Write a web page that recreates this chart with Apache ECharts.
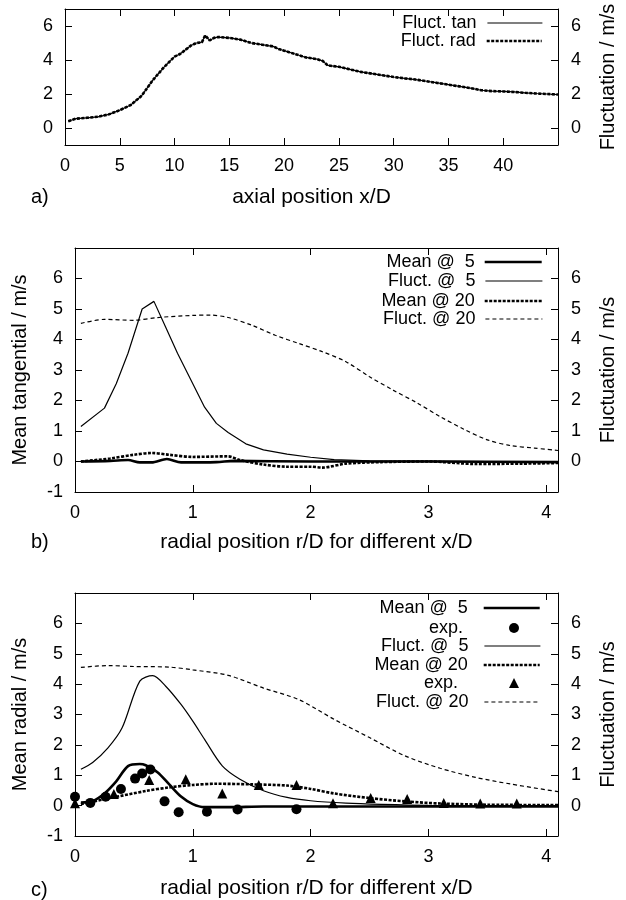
<!DOCTYPE html>
<html>
<head>
<meta charset="utf-8">
<script src="https://cdn.jsdelivr.net/npm/echarts@6/dist/echarts.min.js"></script>
<style>
* { margin: 0; padding: 0; }
body { background: #fff; }
#chart { width: 626px; height: 900px; }
</style>
</head>
<body>
<div id="chart"></div>
<script>
// panel a) fluctuations along the axis
var axialX = [0.3, 1, 2, 3, 4, 5, 6, 7, 8, 9, 10, 10.5, 11, 11.5, 12, 12.5, 12.8, 13.2, 13.6, 14, 15, 16, 17, 18, 18.5, 19, 19.5, 20, 21, 22, 23, 23.5, 24, 25, 26, 27, 28, 29, 30, 31, 32, 33, 34, 35, 36, 37, 38, 39, 40, 41, 42, 43, 44, 45];
var fluctTanA = [0.4, 0.55, 0.6, 0.65, 0.8, 1.05, 1.35, 1.9, 2.8, 3.55, 4.2, 4.35, 4.6, 4.85, 5.0, 5.05, 5.45, 5.15, 5.3, 5.35, 5.3, 5.2, 5.0, 4.9, 4.85, 4.8, 4.65, 4.55, 4.35, 4.15, 4.05, 3.95, 3.68, 3.6, 3.45, 3.3, 3.2, 3.1, 3.0, 2.92, 2.85, 2.75, 2.65, 2.55, 2.45, 2.35, 2.22, 2.17, 2.15, 2.12, 2.07, 2.03, 2.0, 1.97];
var fluctRadA = [0.4, 0.55, 0.6, 0.66, 0.8, 1.05, 1.35, 1.9, 2.8, 3.55, 4.2, 4.35, 4.6, 4.85, 5.0, 5.05, 5.45, 5.15, 5.3, 5.35, 5.3, 5.2, 5.0, 4.9, 4.85, 4.8, 4.65, 4.55, 4.35, 4.15, 4.05, 3.95, 3.68, 3.6, 3.45, 3.3, 3.2, 3.1, 3.0, 2.92, 2.85, 2.75, 2.65, 2.55, 2.45, 2.35, 2.22, 2.17, 2.15, 2.12, 2.07, 2.03, 2.0, 1.97];

// panel b) tangential
var mean5BX = [0.05, 0.3, 0.45, 0.55, 0.65, 0.78, 0.9, 1.2, 1.35, 2.0, 3.0, 4.1];
var mean5B = [0, 0.02, 0.05, -0.03, -0.03, 0.08, -0.03, -0.02, 0.02, 0, 0, -0.02];
var fluct5BX = [0.05, 0.25, 0.35, 0.45, 0.57, 0.67, 0.77, 0.87, 1.0, 1.1, 1.2, 1.3, 1.45, 1.6, 1.8, 2.0, 2.2, 2.5, 3.0, 3.5, 4.1];
var fluct5B = [1.15, 1.75, 2.55, 3.55, 5.0, 5.25, 4.4, 3.55, 2.55, 1.78, 1.25, 0.95, 0.58, 0.38, 0.24, 0.14, 0.06, 0.02, 0.01, 0, 0];
var mean20BX = [0.05, 0.3, 0.5, 0.65, 0.8, 1.0, 1.3, 1.4, 1.6, 1.8, 2.0, 2.1, 2.3, 2.6, 3.0, 3.4, 3.8, 4.1];
var mean20B = [0, 0.1, 0.22, 0.28, 0.22, 0.15, 0.17, 0.05, -0.1, -0.17, -0.17, -0.2, -0.07, -0.02, 0, -0.08, -0.07, -0.05];
var fluct20BX = [0.05, 0.25, 0.5, 0.7, 1.0, 1.15, 1.3, 1.5, 1.7, 1.9, 2.1, 2.3, 2.5, 2.7, 2.9, 3.1, 3.3, 3.5, 3.7, 3.9, 4.1];
var fluct20B = [4.53, 4.66, 4.63, 4.72, 4.79, 4.8, 4.72, 4.47, 4.14, 3.87, 3.6, 3.27, 2.78, 2.34, 1.93, 1.47, 1.06, 0.71, 0.52, 0.44, 0.36];

// panel c) radial
var mean5CX = [0.05, 0.15, 0.25, 0.35, 0.45, 0.55, 0.6, 0.7, 0.8, 0.9, 1.0, 1.1, 1.3, 1.6, 2.0, 3.0, 4.1];
var mean5C = [0.1, 0.15, 0.4, 0.8, 1.3, 1.37, 1.33, 1.1, 0.7, 0.3, 0.05, -0.05, -0.05, -0.03, -0.03, -0.03, -0.03];
var exp5X = [0, 0.13, 0.26, 0.39, 0.51, 0.57, 0.64, 0.76, 0.88, 1.12, 1.38, 1.88];
var exp5 = [0.29, 0.09, 0.29, 0.55, 0.89, 1.06, 1.19, 0.14, -0.22, -0.2, -0.13, -0.12];
var fluct5CX = [0.05, 0.15, 0.28, 0.4, 0.55, 0.66, 0.77, 0.9, 1.0, 1.1, 1.25, 1.4, 1.6, 1.8, 2.0, 2.3, 2.6, 3.0, 4.1];
var fluct5C = [1.2, 1.42, 1.9, 2.56, 4.1, 4.28, 3.93, 3.33, 2.78, 2.18, 1.31, 0.87, 0.49, 0.27, 0.16, 0.08, 0.04, 0.01, 0];
var mean20CX = [0.05, 0.3, 0.6, 0.8, 1.0, 1.2, 1.5, 1.8, 2.0, 2.2, 2.5, 2.8, 3.1, 3.5, 4.1];
var mean20C = [0.05, 0.25, 0.48, 0.6, 0.68, 0.72, 0.7, 0.66, 0.55, 0.4, 0.25, 0.14, 0.07, 0.03, 0.02];
var exp20X = [0, 0.33, 0.63, 0.94, 1.25, 1.56, 1.88, 2.19, 2.51, 2.82, 3.13, 3.44, 3.75];
var exp20 = [0.08, 0.38, 0.84, 0.87, 0.4, 0.68, 0.68, 0.08, 0.25, 0.22, 0.09, 0.07, 0.07];
var fluct20CX = [0.05, 0.28, 0.5, 0.8, 1.0, 1.3, 1.6, 1.9, 2.2, 2.5, 2.8, 3.1, 3.4, 3.7, 4.1];
var fluct20C = [4.55, 4.61, 4.58, 4.56, 4.47, 4.29, 3.87, 3.49, 2.84, 2.24, 1.64, 1.23, 0.93, 0.71, 0.46];

// tick labels
var xTicksA = [0, 5, 10, 15, 20, 25, 30, 35, 40];
var yTicksA = [0, 2, 4, 6];
var xTicksR = [0, 1, 2, 3, 4];
var yTicksLeft = [-1, 0, 1, 2, 3, 4, 5, 6];
var yTicksRight = [0, 1, 2, 3, 4, 5, 6];

var FONT = 'Liberation Sans';
var TICK_FS = 18;
var NAME_FS = 20;
var LEG_FS = 18;

function zip(xs, ys) {
  return xs.map(function (x, i) { return [x, ys[i]]; });
}

var thick = { color: '#000', width: 2.6 };
var thickDot = { color: '#000', width: 2.6, type: [3, 1.5] };
var thin = { color: '#000', width: 1.2 };
var thinDash = { color: '#000', width: 1.2, type: [4, 3] };

function lineSeries(name, data, style, gi, yi, smooth) {
  return {
    name: name, type: 'line', data: data, symbol: 'none',
    xAxisIndex: gi * 2, yAxisIndex: gi * 2 + yi,
    lineStyle: style, itemStyle: { color: '#000' },
    smooth: smooth || false, animation: false, z: style.width > 2 ? 3 : 2
  };
}
function scatterSeries(name, data, symbol, size, gi) {
  return {
    name: name, type: 'scatter', data: data, symbol: symbol, symbolSize: size,
    xAxisIndex: gi * 2, yAxisIndex: gi * 2,
    itemStyle: { color: '#000', opacity: 1 }, animation: false, z: 5
  };
}

function xAxes(gi, max, ticks, name, gap) {
  var tick = { inside: true, length: 7, customValues: ticks, lineStyle: { color: '#000' } };
  return [{
    type: 'value', gridIndex: gi, min: 0, max: max, position: 'bottom',
    axisLine: { onZero: false, lineStyle: { color: '#000' } }, axisTick: tick,
    axisLabel: { customValues: ticks, color: '#000', fontSize: TICK_FS, fontFamily: FONT, margin: 12 },
    splitLine: { show: false },
    name: name, nameLocation: 'middle', nameGap: gap,
    nameTextStyle: { color: '#000', fontSize: NAME_FS + 1, fontFamily: FONT }
  }, {
    type: 'value', gridIndex: gi, min: 0, max: max, position: 'top',
    axisLine: { show: true, onZero: false, lineStyle: { color: '#000' } }, axisTick: tick,
    axisLabel: { show: false }, splitLine: { show: false }
  }];
}

function yAxis(gi, pos, ticks, labels, name, gap) {
  return {
    type: 'value', gridIndex: gi, min: -1, max: 7, position: pos,
    axisLine: { show: true, onZero: false, lineStyle: { color: '#000' } },
    axisTick: { show: true, inside: true, length: 7, customValues: ticks, lineStyle: { color: '#000' } },
    axisLabel: { customValues: labels, color: '#000', fontSize: TICK_FS, fontFamily: FONT, margin: pos === 'left' ? 12 : 13 },
    splitLine: { show: false },
    name: name, nameLocation: 'middle', nameGap: gap, nameRotate: 90,
    nameTextStyle: { color: '#000', fontSize: NAME_FS, fontFamily: FONT }
  };
}

var hiddenMark = { color: 'rgba(0,0,0,0)', borderColor: 'rgba(0,0,0,0)', borderWidth: 0, opacity: 0 };

function legendItem(name, right, centerY, iconW, iconH, padRight, style) {
  var l = {
    data: [name], orient: 'vertical', align: 'right', selectedMode: false,
    right: right, top: centerY - 10, padding: 0,
    itemWidth: iconW, itemHeight: iconH, itemGap: 0,
    textStyle: { color: '#000', fontSize: LEG_FS, fontFamily: FONT, padding: [0, padRight, 0, 0] }
  };
  if (style) {
    l.itemStyle = hiddenMark;
    l.lineStyle = { width: style.width, type: style.type || 'solid', color: '#000' };
  } else {
    l.itemStyle = { color: '#000', opacity: 1 };
  }
  return l;
}

var titleStyle = { fontSize: NAME_FS, fontWeight: 'normal', fontFamily: FONT, color: '#000' };

var option = {
  backgroundColor: '#fff',
  animation: false,
  title: [
    { text: 'a)', left: 31, top: 187, textStyle: titleStyle, padding: 0 },
    { text: 'b)', left: 31, top: 532, textStyle: titleStyle, padding: 0 },
    { text: 'c)', left: 31, top: 880, textStyle: titleStyle, padding: 0 }
  ],
  grid: [
    { left: 65, top: 9, width: 499, height: 136 },
    { left: 75, top: 248, width: 490, height: 244 },
    { left: 75, top: 593, width: 490, height: 245 }
  ],
  xAxis: [].concat(
    xAxes(0, 45, xTicksA, 'axial position x/D', 42),
    xAxes(1, 4.1, xTicksR, 'radial position r/D for different x/D', 40),
    xAxes(2, 4.1, xTicksR, 'radial position r/D for different x/D', 42)
  ),
  yAxis: [
    yAxis(0, 'left', yTicksA, yTicksA, '', 30),
    yAxis(0, 'right', yTicksA, yTicksA, 'Fluctuation / m/s', 40),
    yAxis(1, 'left', yTicksLeft, yTicksLeft, 'Mean tangential / m/s', 45),
    yAxis(1, 'right', yTicksRight, yTicksRight, 'Fluctuation / m/s', 40),
    yAxis(2, 'left', yTicksLeft, yTicksLeft, 'Mean radial / m/s', 45),
    yAxis(2, 'right', yTicksRight, yTicksRight, 'Fluctuation / m/s', 40)
  ],
  legend: [
    legendItem('Fluct. tan', 83, 24, 55, 14, 6, thin),
    legendItem('Fluct. rad', 83, 42, 55, 14, 6, thickDot),
    legendItem('Mean @  5', 83, 263, 57, 14, 5, thick),
    legendItem('Fluct. @  5', 83, 282, 57, 14, 5, thin),
    legendItem('Mean @ 20', 83, 302, 57, 14, 5, thickDot),
    legendItem('Fluct. @ 20', 83, 320, 57, 14, 5, thinDash),
    legendItem('Mean @  5 ', 85, 609, 56, 14, 6, thick),
    legendItem('exp.', 107, 629, 10, 10, 41),
    legendItem('Fluct. @  5 ', 85, 647, 56, 14, 6, thin),
    legendItem('Mean @ 20 ', 85, 666, 56, 14, 6, thickDot),
    legendItem('exp. ', 107, 684, 10, 10, 41),
    legendItem('Fluct. @ 20 ', 85, 703, 56, 14, 6, thinDash)
  ],
  series: [
    lineSeries('Fluct. tan', zip(axialX, fluctTanA), thin, 0, 0),
    lineSeries('Fluct. rad', zip(axialX, fluctRadA), thickDot, 0, 0),

    lineSeries('Mean @  5', zip(mean5BX, mean5B), thick, 1, 0, 0.3),
    lineSeries('Fluct. @  5', zip(fluct5BX, fluct5B), thin, 1, 1),
    lineSeries('Mean @ 20', zip(mean20BX, mean20B), thickDot, 1, 0, 0.3),
    lineSeries('Fluct. @ 20', zip(fluct20BX, fluct20B), thinDash, 1, 1, 0.3),

    lineSeries('Mean @  5 ', zip(mean5CX, mean5C), thick, 2, 0, 0.3),
    scatterSeries('exp.', zip(exp5X, exp5), 'circle', 10, 2),
    lineSeries('Fluct. @  5 ', zip(fluct5CX, fluct5C), thin, 2, 1, 0.3),
    lineSeries('Mean @ 20 ', zip(mean20CX, mean20C), thickDot, 2, 0, 0.3),
    scatterSeries('exp. ', zip(exp20X, exp20), 'triangle', 10, 2),
    lineSeries('Fluct. @ 20 ', zip(fluct20CX, fluct20C), thinDash, 2, 1, 0.3)
  ]
};

echarts.init(document.getElementById('chart')).setOption(option);
</script>
</body>
</html>
